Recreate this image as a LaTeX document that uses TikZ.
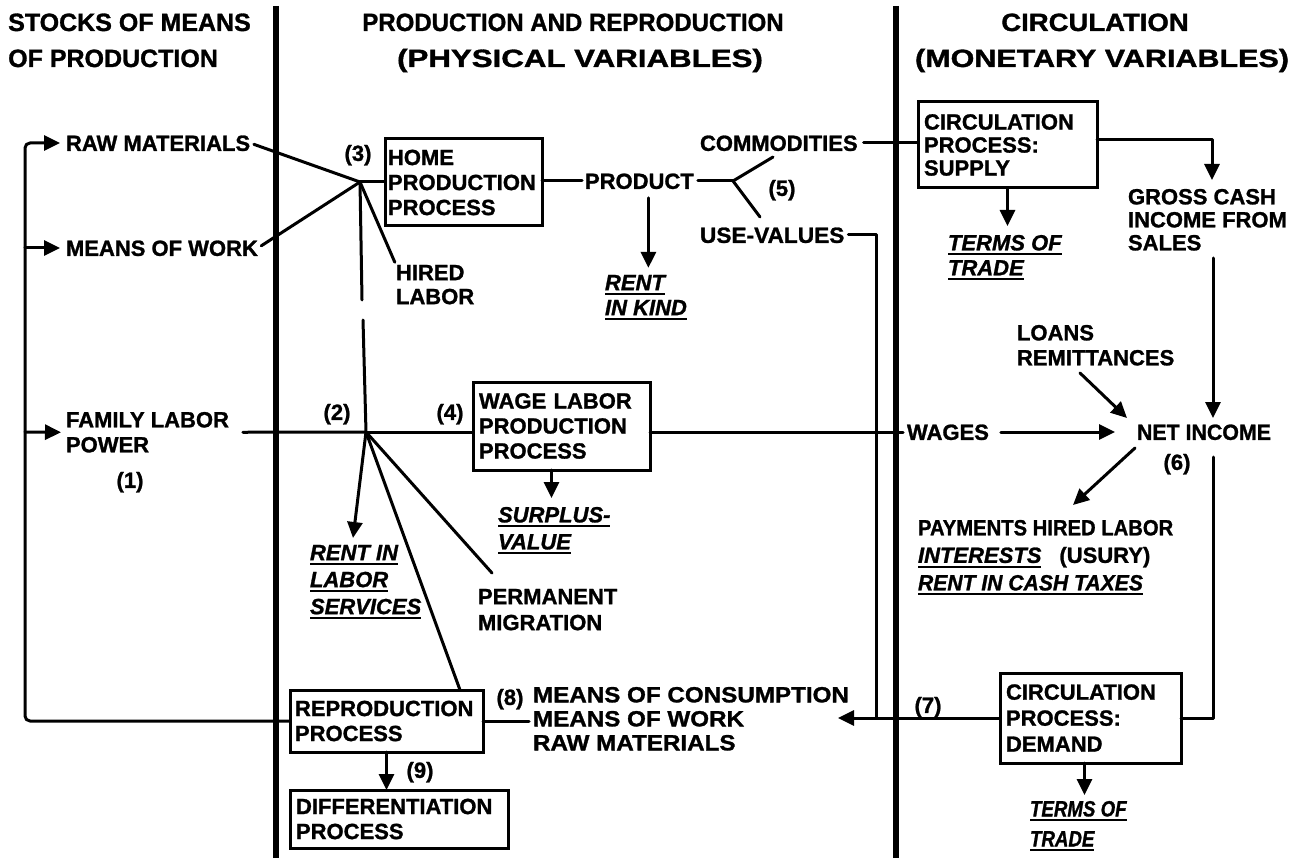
\documentclass[tikz,border=0pt]{standalone}
\usepackage{fontspec}
\setmainfont{Liberation Sans}[BoldFeatures={FakeBold=1.2},BoldItalicFeatures={FakeBold=1.2}]
\usepackage{graphicx}
\usetikzlibrary{arrows.meta}
\newsavebox\ulbox
\newlength\ullen
\newcommand\ulx[1]{\sbox\ulbox{#1}\setlength\ullen{\wd\ulbox}\usebox\ulbox\hspace*{-\ullen}\rule[-5pt]{\ullen}{2.2pt}}
\newcommand\ui[1]{\ulx{\itshape #1}}
\newcommand\bodyfont{\fontsize{22}{25}\selectfont\bfseries}
\newcommand\titlefont{\fontsize{25}{30}\selectfont\bfseries}
\begin{document}
\begin{tikzpicture}[x=1pt,y=-1pt,
  ln/.style={line width=3pt,line cap=round,line join=round},
  sepline/.style={line width=5.5pt},
  arr/.style={ln,-{Triangle[length=16pt,width=15pt]}},
  txt/.style={font=\bodyfont,inner sep=0pt,outer sep=0pt,text height=15.75pt,text depth=0pt},
  mtxt/.style={font=\bodyfont,inner sep=0pt,outer sep=0pt,align=left,anchor=north west},
  box/.style={draw,line width=3pt,font=\bodyfont,align=left,anchor=north west,inner xsep=6pt,inner ysep=0pt,outer sep=0pt},
  ttl/.style={font=\titlefont,inner sep=0pt,text height=18pt,text depth=0pt}]
\useasboundingbox (0,0) rectangle (1300,858);
\fill[white] (0,0) rectangle (1300,858);

% column separators
\draw[sepline] (276,6) -- (276,858);
\draw[sepline] (896,6) -- (896,858);

% titles
\node[ttl,anchor=west] (t1a) at (8,22) {STOCKS OF MEANS};
\node[ttl,anchor=west] (t1b) at (8,58) {OF PRODUCTION};
\node[ttl] (t2a) at (573,22) {\scalebox{0.96}[1]{PRODUCTION AND REPRODUCTION}};
\node[ttl] (t2b) at (580,58) {\scalebox{1.25}[1]{(PHYSICAL VARIABLES)}};
\node[ttl] (t3a) at (1095,22) {\scalebox{1.1}[1]{CIRCULATION}};
\node[ttl] (t3b) at (1102,58) {\scalebox{1.22}[1]{(MONETARY VARIABLES)}};

% boxes
\node[box,text width=151pt,inner xsep=3pt,minimum height=87pt] (home) at (385,139) {HOME\\PRODUCTION\\PROCESS};
\node[box,text width=165pt,minimum height=88pt] (wage) at (473,382) {WAGE LABOR\\PRODUCTION\\PROCESS};
\node[box,text width=167pt,minimum height=86pt,font=\fontsize{22}{23}\selectfont\bfseries] (supply) at (918,102) {CIRCULATION\\PROCESS:\\SUPPLY};
\node[box,text width=169pt,minimum height=90pt,font=\fontsize{22}{26}\selectfont\bfseries] (demand) at (1000,673) {CIRCULATION\\PROCESS:\\DEMAND};
\node[box,text width=183pt,inner xsep=5pt,minimum height=62pt] (repro) at (290,690) {REPRODUCTION\\PROCESS};
\node[box,text width=206pt,minimum height=58pt] (diff) at (290,790) {DIFFERENTIATION\\PROCESS};

% left column texts
\node[txt,anchor=west] (raw) at (66,143) {RAW MATERIALS};
\node[txt,anchor=west] (mow) at (66,248) {MEANS OF WORK};
\node[mtxt] (flp) at (66,412) {FAMILY LABOR\\POWER};
\node[txt] (n1) at (130,480) {(1)};

% middle column texts
\node[txt] (n3) at (358,153) {(3)};
\node[mtxt,font=\fontsize{22}{24}\selectfont\bfseries] (hired) at (396,265) {HIRED\\LABOR};
\node[txt,anchor=west] (prod) at (585,181) {PRODUCT};
\node[mtxt] (rk) at (605,275) {\ui{RENT}\\\ui{IN KIND}};
\node[txt] (n5) at (782,188) {(5)};
\node[txt,anchor=west] (comm) at (700,143) {COMMODITIES};
\node[txt,anchor=west] (uv) at (700,235) {\scalebox{1.03}[1]{USE-VALUES}};
\node[txt] (n2) at (337,412) {(2)};
\node[txt] (n4) at (450,412) {(4)};
\node[mtxt,font=\fontsize{22}{27}\selectfont\bfseries] (rentlab) at (310,545) {\ui{RENT IN}\\\ui{LABOR}\\\ui{SERVICES}};
\node[mtxt,font=\fontsize{22}{27}\selectfont\bfseries] (surplus) at (498,507) {\ui{SURPLUS-}\\\ui{VALUE}};
\node[mtxt,font=\fontsize{22}{26}\selectfont\bfseries] (perm) at (478,589) {PERMANENT\\MIGRATION};
\node[mtxt,font=\fontsize{22}{24}\selectfont\bfseries] (means) at (533,687) {\scalebox{1.1}[1]{MEANS OF CONSUMPTION}\\\scalebox{1.1}[1]{MEANS OF WORK}\\\scalebox{1.1}[1]{RAW MATERIALS}};
\node[txt] (n8) at (510,697) {(8)};
\node[txt] (n9) at (420,770) {(9)};

% right column texts
\node[mtxt] (tt1) at (948,235) {\ui{TERMS OF}\\\ui{TRADE}};
\node[mtxt,font=\fontsize{22}{23}\selectfont\bfseries] (gross) at (1128,189) {GROSS CASH\\INCOME FROM\\SALES};
\node[mtxt] (loans) at (1017,325) {LOANS\\REMITTANCES};
\node[txt,anchor=west] (wages) at (907,432) {WAGES};
\node[txt,anchor=west] (ni) at (1137,432) {\scalebox{0.97}[1]{NET INCOME}};
\node[txt] (n6) at (1177,462) {(6)};
\node[mtxt,font=\fontsize{22}{27.5}\selectfont\bfseries] (pay) at (918,520) {\scalebox{0.92}[1]{PAYMENTS HIRED LABOR}\\\ui{INTERESTS}\hspace{18pt}(USURY)\\\scalebox{0.96}[1]{\ui{RENT IN CASH TAXES}}};
\node[txt] (n7) at (928,705) {(7)};
\node[mtxt,font=\fontsize{22}{30}\selectfont\bfseries] (tt2) at (1030,801) {\scalebox{0.85}[1]{\ui{TERMS OF}}\\\scalebox{0.85}[1]{\ui{TRADE}}};

% junction / free-end coordinates
\coordinate (j3) at (360,182);
\coordinate (j2) at (366,432);
\coordinate (g1) at (362,300);
\coordinate (g2) at (363,320);
\coordinate (lpt) at (25,143);
\coordinate (lpm) at (25,248);
\coordinate (lpf) at (25,432);
\coordinate (lpb) at (25,721);
\coordinate (f5) at (733,181);
\coordinate (c5a) at (773,157);
\coordinate (c5b) at (760,217);
\coordinate (uvd) at (876,718);
\coordinate (arrm) at (838,718);
\coordinate (gtop) at (1212,180);
\coordinate (gb) at (1213,258);
\coordinate (nt) at (1213,418);
\coordinate (nb) at (1213,457);
\coordinate (la) at (1080,373);
\coordinate (lb) at (1127,418);
\coordinate (pa) at (1135,448);
\coordinate (pb) at (1073,505);
\coordinate (rl) at (353,538);
\coordinate (pm) at (492,573);

% left loop
\draw[arr,rounded corners=5pt] (repro.west) -- (lpb) -- (lpt) -- ([xshift=-6pt]raw.west);
\draw[arr] (lpm) -- ([xshift=-6pt]mow.west);
\draw[arr] (lpf) -- ([xshift=-5pt]flp.west);

% home production inputs
\draw[ln,shorten <=4pt] (raw.east) -- (j3);
\draw[ln,shorten <=4pt] (mow.east) -- (j3);
\draw[ln] (j3) -- (home.west |- j3);
\draw[ln,shorten >=3pt] (j3) -- (hired.north west);
\draw[ln] (j3) -- (g1);
\draw[ln] (g2) -- (j2);

% family labor junction
\draw[ln,shorten <=14pt] (flp.east) -- (j2);
\draw[ln] (j2) -- (j2 -| wage.west);
\draw[arr] (j2) -- (rl);
\draw[ln] (j2) -- (pm);
\draw[ln] (j2) -- ([xshift=-23pt]repro.north east);
\draw[arr] ([xshift=-10pt]wage.south) -- ++(0,28);
\draw[ln,shorten >=4pt] (j2 -| wage.east) -- (wages.west);

% product
\draw[ln,shorten >=3pt] (home.east |- prod) -- (prod.west);
\draw[ln,shorten <=4pt] (prod.east) -- (f5);
\draw[ln] (f5) -- (c5a);
\draw[ln] (f5) -- (c5b);
\draw[arr] ([xshift=9pt,yshift=-9pt]prod.south) -- ++(0,70);
\draw[ln,shorten <=6pt] (comm.east) -- (comm.east -| supply.west);
\draw[ln,shorten <=4pt] (uv.east) -| (uvd);

% circulation
\draw[arr] (supply.south) -- ++(0,38);
\draw[arr] ([yshift=5pt]supply.east) -| (gtop);
\draw[arr] (gb) -- (nt);
\draw[arr] (la) -- (lb);
\draw[arr,shorten <=12pt,shorten >=22pt] (wages.east) -- (ni.west);
\draw[arr] (pa) -- (pb);
\draw[ln] (demand.east) -| (nb);
\draw[arr] (demand.west) -- (arrm);
\draw[arr] ([xshift=-6pt]demand.south) -- ++(0,32);

% reproduction
\draw[ln,shorten >=4pt] (repro.east) -- (repro.east -| means.west);
\draw[arr] (repro.south) -- (repro.south |- diff.north);
\end{tikzpicture}
\end{document}
